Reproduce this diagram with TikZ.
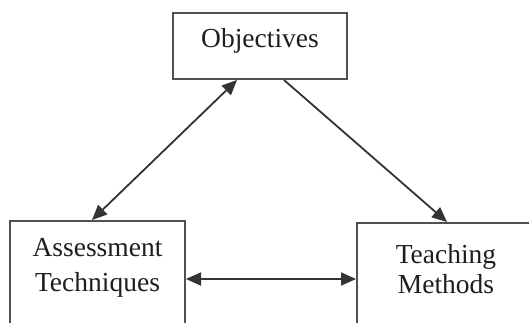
\documentclass[tikz,border=0pt]{standalone}
\usepackage{fontspec}
\setmainfont{Liberation Serif}
\usetikzlibrary{arrows.meta}
\definecolor{boxline}{HTML}{505050}
\definecolor{txt}{HTML}{1E1E1E}
\definecolor{arr}{HTML}{333333}
\begin{document}
\begin{tikzpicture}[x=1pt,y=-1pt,
  box/.style={draw=boxline,line width=2pt,rectangle,inner sep=0pt},
  lbl/.style={anchor=base,inner sep=0pt,text=txt,font=\fontsize{27.5}{33}\selectfont},
  conn/.style={draw=arr,line width=1.8pt},
  tp/.tip={Triangle[length=15pt,width=13pt]}]
\useasboundingbox (0,0) rectangle (529,322);
\node[box,minimum width=174pt,minimum height=66pt] (obj) at (260,46) {};
\node[box,minimum width=175pt,minimum height=122pt] (asm) at (97.5,282) {};
\node[box,minimum width=178pt,minimum height=122pt] (tch) at (446,284) {};
\node[lbl] (objt) at (260,47) {Objectives};
\node[lbl] (asm1) at (97.5,256) {Assessment};
\node[lbl] (asm2) at (97.5,291) {Techniques};
\node[lbl] (tch1) at (446,263) {Teaching};
\node[lbl] (tch2) at (446,293) {Methods};
\coordinate (a1) at ([xshift=65pt]obj.south west);
\coordinate (a2) at ([xshift=83pt]asm.north west);
\coordinate (b1) at ([xshift=112pt]obj.south west);
\coordinate (b2) at ([xshift=91pt]tch.north west);
\coordinate (c1) at ([yshift=-59pt]asm.north east);
\coordinate (c2) at ([yshift=-57pt]tch.north west);
\draw[conn,tp-tp] (a1) -- (a2);
\draw[conn,-tp] (b1) -- (b2);
\draw[conn,tp-tp] (c1) -- (c2);
\end{tikzpicture}
\end{document}
